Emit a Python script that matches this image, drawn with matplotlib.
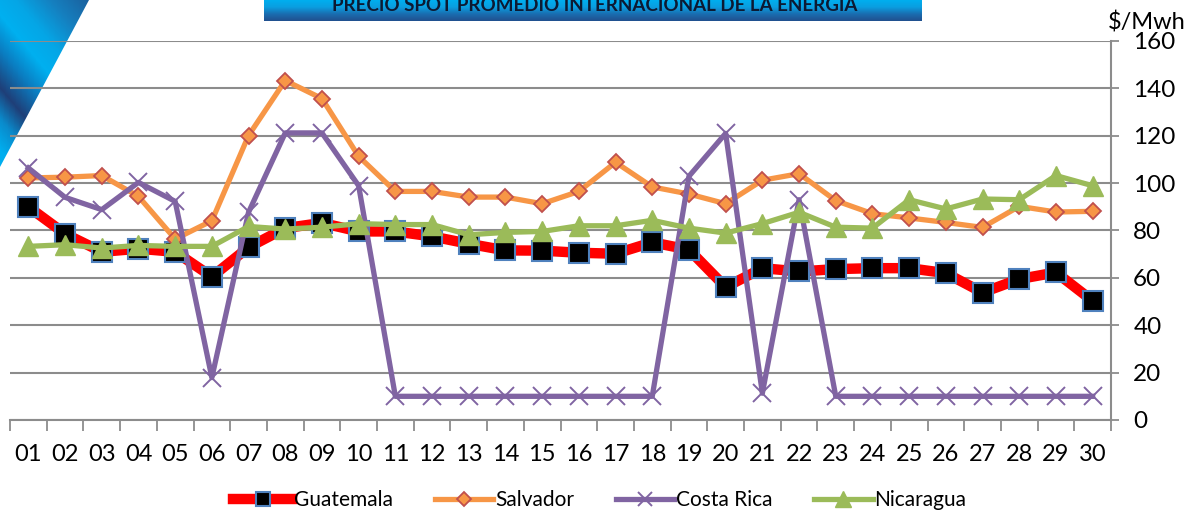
import numpy as np
import matplotlib
matplotlib.use('Agg')
import matplotlib.pyplot as plt
from matplotlib.colors import LinearSegmentedColormap
from matplotlib.patches import Polygon
from matplotlib.lines import Line2D

plt.rcParams['font.family'] = ['Lato', 'DejaVu Sans']

days = ['01', '02', '03', '04', '05', '06', '07', '08', '09', '10',
        '11', '12', '13', '14', '15', '16', '17', '18', '19', '20',
        '21', '22', '23', '24', '25', '26', '27', '28', '29', '30']

guatemala = [90, 78.6, 71, 72.3, 71, 60.5, 72.9, 81, 83.2, 79.6,
             79.6, 77.5, 74.4, 71.6, 71.5, 70.6, 70.2, 75, 71.9, 56.1,
             64.1, 62.7, 63.7, 64.1, 64.1, 62, 53.8, 59.5, 62.3, 50.3]
salvador = [102.2, 102.5, 103.2, 94.4, 76.4, 84.1, 120.1, 143.3, 135.7, 111.3,
            96.5, 96.5, 94.1, 94.1, 91.3, 96.5, 108.8, 98.4, 95.4, 91.3,
            101.2, 104, 92.6, 87.1, 85.3, 83.4, 81.3, 90.2, 87.8, 88.1]
costa_rica = [106.4, 94, 88.8, 100.3, 92.3, 17.9, 87.7, 121.2, 121.2, 98.9,
              10, 10, 10, 10, 10, 10, 10, 10, 102.9, 121,
              11.3, 93, 10, 10, 10, 10, 10, 10, 10, 10]
nicaragua = [73.3, 74, 72.6, 73.7, 73.3, 73.3, 81.7, 80.6, 81.4, 82.9,
             82.5, 82.5, 78.2, 79.2, 79.6, 82, 82, 84.3, 81, 78.9,
             82.9, 87.7, 81.4, 81, 93, 89.1, 93.3, 93, 103.2, 98.9]

W, H = 1193, 515
fig = plt.figure(figsize=(W / 100, H / 100), dpi=100)

# decoration top-left (striped blue triangle)
bg = fig.add_axes([0, 0, 1, 1], zorder=0)
bg.set_xlim(0, W)
bg.set_ylim(H, 0)
bg.axis('off')
yy, xx = np.mgrid[0:170, 0:92]
t = (1.2 * xx - yy + 150) / 260.0
cmap = LinearSegmentedColormap.from_list('deco', [
    (0.0, '#00aeef'), (0.12, '#0a8acb'), (0.24, '#1f3f78'), (0.385, '#0b7cc0'),
    (0.52, '#00b0f0'), (0.65, '#05a6e6'), (0.81, '#1580c0'), (1.0, '#1b5f9c')])
im = bg.imshow(t, cmap=cmap, vmin=0, vmax=1, extent=[0, 92, 170, 0], aspect='auto')
tri = Polygon([[0, 0], [89, 0], [0, 167]], closed=True, transform=bg.transData)
im.set_clip_path(tri)

# title banner (text is cut at the top edge, as in the original)
bn = fig.add_axes([264 / W, 1 - 21 / H, (922 - 264) / W, 21 / H], zorder=1)
grad = np.linspace(0, 1, 50).reshape(-1, 1)
bn.imshow(grad, cmap=LinearSegmentedColormap.from_list('bn', ['#00aeef', '#0a9ee0', '#1a6db0', '#21508f']),
          aspect='auto', extent=[0, 1, 1, 0])
bn.axis('off')
fig.text(595 / W, 1 - 11 / H, 'PRECIO SPOT PROMEDIO INTERNACIONAL DE LA ENERGIA',
         ha='center', va='baseline', fontsize=13.5, fontweight='bold', color='#0c1a33', zorder=5)

ax = fig.add_axes([10 / W, 95 / H, 1101 / W, 379 / H], zorder=2)
ax.patch.set_alpha(0)
x = np.arange(len(days))

ax.plot(x, guatemala, color='#ff0000', lw=7.5, marker='s', ms=15,
        mfc='black', mec='#4f81bd', mew=1.5, label='Guatemala', zorder=3)
ax.plot(x, salvador, color='#f79646', lw=3.8, marker='D', ms=8,
        mfc='#f79646', mec='#c0504d', mew=1.3, label='Salvador', zorder=4)
ax.plot(x, costa_rica, color='#8064a2', lw=3.8, marker='x', ms=13,
        mec='#8064a2', mew=1.4, label='Costa Rica', zorder=5)
ax.plot(x, nicaragua, color='#9bbb59', lw=3.8, marker='^', ms=15,
        mfc='#9bbb59', mec='#9bbb59', label='Nicaragua', zorder=6)

ax.set_xlim(-0.5, len(days) - 0.5)
ax.set_ylim(0, 160)
ax.set_yticks(range(0, 161, 20))
ax.yaxis.tick_right()
ax.grid(axis='y', color='#8c8c8c', lw=1.5, zorder=0)
ax.set_axisbelow(True)

ax.set_xticks(x)
ax.set_xticklabels(days)
ax.set_xticks(np.arange(-0.5, len(days), 1), minor=True)
ax.tick_params(axis='x', which='major', length=0, pad=17, labelsize=17)
ax.tick_params(axis='x', which='minor', length=8, width=1.3, color='#8c8c8c')
ax.tick_params(axis='y', length=6, width=1.3, color='#8c8c8c', pad=10, labelsize=17.5)

for s in ['left', 'top']:
    ax.spines[s].set_visible(False)
for s in ['right', 'bottom']:
    ax.spines[s].set_color('#8c8c8c')
    ax.spines[s].set_linewidth(1.5)

fig.text(1147 / W, 1 - 22 / H, '$/Mwh', ha='center', va='center', fontsize=17)

handles = [
    Line2D([], [], color='#ff0000', lw=7.5, marker='s', ms=10, mfc='black', mec='#4f81bd', mew=1.5),
    Line2D([], [], color='#f79646', lw=3.8, marker='D', ms=7, mfc='#f79646', mec='#c0504d', mew=1.3),
    Line2D([], [], color='#8064a2', lw=3.8, marker='x', ms=10, mec='#8064a2', mew=1.4),
    Line2D([], [], color='#9bbb59', lw=3.8, marker='^', ms=11, mfc='#9bbb59', mec='#9bbb59'),
]
fig.legend(handles, ['Guatemala', 'Salvador', 'Costa Rica', 'Nicaragua'],
           loc='center', bbox_to_anchor=(600 / W, 1 - 500 / H), ncol=4, frameon=False,
           fontsize=15, handlelength=2.8, handletextpad=0.1, columnspacing=2.0)

fig.savefig('out.png', dpi=100)
